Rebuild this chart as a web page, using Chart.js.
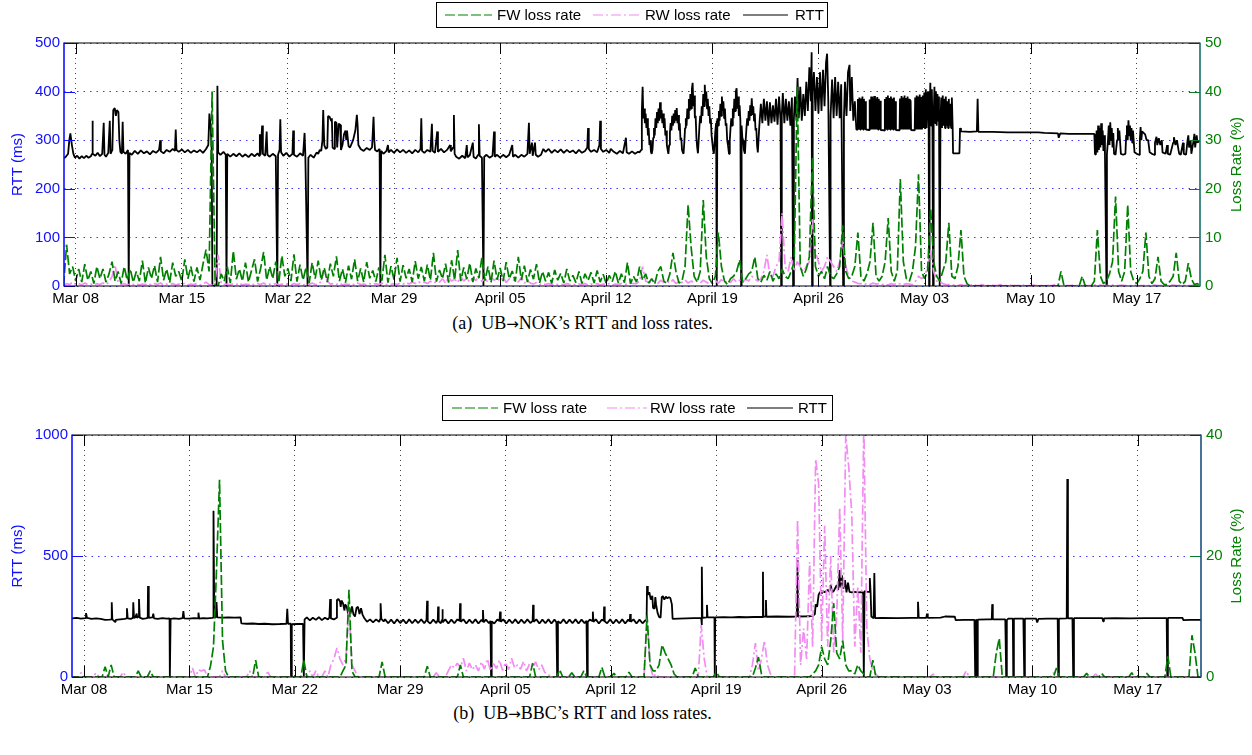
<!DOCTYPE html>
<html><head><meta charset="utf-8">
<script src="https://cdn.jsdelivr.net/npm/chart.js@4.4.1/dist/chart.umd.min.js"></script>
<style>
html,body{margin:0;padding:0;background:#fff;}
body{width:1252px;height:755px;position:relative;overflow:hidden;}
.wrap{position:absolute;left:0;width:1252px;height:310px;}
#wa{top:0}
#wb{top:390px}
.cap{position:absolute;left:0;width:1165px;text-align:center;font-family:'Liberation Serif','Times New Roman',serif;font-size:18px;line-height:21px;color:#000;white-space:pre;}
.arr{font-family:'DejaVu Sans',sans-serif;font-size:15px;}
</style></head><body>
<div class="wrap" id="wa"><canvas id="ca" width="1252" height="310" style="width:1252px;height:310px"></canvas></div>
<div class="cap" style="top:313px">(a)  UB<span class="arr">→</span>NOK’s RTT and loss rates.</div>
<div class="wrap" id="wb"><canvas id="cb" width="1252" height="310" style="width:1252px;height:310px"></canvas></div>
<div class="cap" style="top:703px">(b)  UB<span class="arr">→</span>BBC’s RTT and loss rates.</div>
<script>
// ---------- axis ticks / labels ----------
const xTickDays = [0,7,14,21,28,35,42,49,56,63,70];
const xTickLabels = ['Mar 08','Mar 15','Mar 22','Mar 29','April 05','April 12','April 19','April 26','May 03','May 10','May 17'];
const yTicksA = [0,100,200,300,400,500];
const y2TicksA = [0,10,20,30,40,50];
const yTicksB = [0,500,1000];
const y2TicksB = [0,20,40];
// loss rates: sampled every 0.2 day starting at day -1 (day 0 = Mar 08)
const lossT0 = -1, lossStep = 0.2;

// ---------- (a) UB->NOK ----------
// RTT [day, ms]
const rttA = [
[-0.8,262],[-0.65,266],[-0.5,272],[-0.42,300],[-0.35,314],[-0.25,290],[-0.15,272],[-0.05,264],[0.1,268],[0.25,262],[0.4,267],[0.55,263],[0.7,268],[0.85,264],[1.0,267],[1.08,272],[1.1,340],[1.14,272],[1.3,268],[1.45,274],[1.6,267],[1.75,272],[1.85,336],[1.9,270],[2.0,266],[2.15,274],[2.25,340],[2.3,272],[2.42,280],[2.48,362],[2.58,366],[2.65,350],[2.72,362],[2.82,358],[2.88,300],[2.95,276],[3.05,272],[3.1,338],[3.15,276],[3.3,272],[3.45,280],[3.5,0],[3.55,274],
[3.7,270],[3.9,278],[4.1,272],[4.3,279],[4.5,273],[4.7,277],[4.9,271],[5.1,278],[5.3,274],[5.5,280],[5.58,300],[5.62,277],[5.8,273],[6.0,280],[6.2,276],[6.4,282],[6.55,278],[6.6,322],[6.65,280],[6.8,276],[7.0,281],[7.2,275],[7.4,280],[7.6,274],[7.8,279],[8.0,275],[8.2,280],[8.4,274],[8.6,282],[8.75,290],[8.82,355],[8.9,330],[8.97,285],[9.02,0],[9.3,0],[9.35,412],[9.4,275],
[9.55,270],[9.75,276],[9.9,270],[9.95,0],[10.0,272],[10.2,266],[10.4,272],[10.6,267],[10.8,273],[11.0,266],[11.2,271],[11.4,265],[11.6,272],[11.8,267],[12.0,273],[12.1,268],[12.15,312],[12.2,270],[12.3,330],[12.35,272],[12.5,268],[12.6,318],[12.65,270],[12.8,266],[13.0,272],[13.2,267],[13.3,0],[13.35,270],[13.45,280],[13.5,343],[13.55,275],[13.7,268],[13.9,274],[14.1,266],[14.3,272],[14.35,320],[14.4,270],[14.6,266],[14.8,273],[15.0,268],[15.1,315],[15.15,270],[15.3,0],[15.35,264],[15.5,270],[15.7,264],[15.9,275],[16.0,272],[16.1,280],[16.2,278],[16.28,300],[16.33,362],[16.4,290],[16.5,282],[16.6,285],[16.65,350],[16.75,348],[16.85,340],[16.9,345],[16.95,285],[17.05,282],[17.1,338],[17.2,336],[17.25,285],[17.35,334],[17.45,332],[17.5,280],[17.6,290],[17.7,312],[17.8,320],[17.85,300],[17.9,320],[18.0,288],[18.1,285],[18.3,300],[18.45,320],[18.55,352],[18.6,330],[18.65,290],[18.8,282],[19.0,278],[19.2,284],[19.4,280],[19.55,285],[19.65,348],[19.7,300],[19.75,280],[19.9,277],[20.05,282],[20.1,0],[20.15,278],
[20.3,272],[20.5,278],[20.6,290],[20.65,275],[20.8,280],[21.0,274],[21.2,281],[21.4,275],[21.6,280],[21.8,274],[22.0,279],[22.2,273],[22.4,280],[22.6,275],[22.75,282],[22.8,345],[22.85,278],[23.0,274],[23.2,280],[23.4,276],[23.5,334],[23.55,278],[23.7,274],[23.85,318],[23.9,276],[24.1,282],[24.3,275],[24.5,280],[24.7,290],[24.75,277],[24.9,285],[24.95,352],[25.0,272],[25.1,266],[25.3,262],[25.5,268],[25.7,263],[25.8,290],[25.85,265],[26.0,269],[26.2,295],[26.25,266],[26.4,262],[26.55,270],[26.6,333],[26.65,268],[26.8,264],[26.9,0],[26.95,266],[27.1,270],[27.3,264],[27.5,268],[27.6,318],[27.65,266],[27.8,270],[28.0,264],[28.2,270],[28.4,265],[28.6,270],[28.8,290],[28.85,266],[29.0,270],[29.2,264],[29.4,270],[29.6,266],[29.8,272],[29.9,336],[29.95,272],[30.1,295],[30.15,268],[30.3,295],[30.35,270],[30.5,266],[30.7,270],[30.85,282],[31.0,276],[31.2,282],[31.4,274],[31.6,280],[31.8,275],[32.0,281],[32.2,274],[32.4,280],[32.6,275],[32.8,279],[33.0,273],[33.2,280],[33.4,274],[33.6,278],[33.75,285],[33.8,325],[33.85,282],[34.0,276],[34.2,280],[34.4,275],[34.55,290],[34.6,340],[34.65,282],[34.8,276],[35.0,280],[35.2,274],[35.3,282],[35.5,276],[35.7,272],[35.9,278],[36.1,273],[36.3,305],[36.35,275],[36.5,272],[36.7,277],[36.9,272],[37.1,276],
[37.2,275],[37.3,280],[37.35,360],[37.4,410],[37.45,345],[37.5,365],[37.55,335],[37.6,355],[37.65,325],[37.7,345],[37.75,310],[37.8,325],[37.85,290],[37.9,300],[37.95,276],[38.0,272],
[38.05,280],[38.1,305],[38.15,325],[38.2,310],[38.25,345],[38.3,325],[38.35,358],[38.4,335],[38.45,365],[38.5,340],[38.55,378],[38.6,345],[38.65,362],[38.7,335],[38.75,355],[38.8,325],[38.85,345],[38.9,310],[38.95,320],[39.0,290],[39.05,280],[39.1,272],
[39.15,290],[39.2,315],[39.25,335],[39.3,320],[39.35,350],[39.4,330],[39.45,355],[39.5,335],[39.55,362],[39.6,340],[39.65,366],[39.7,335],[39.75,352],[39.8,320],[39.85,335],[39.9,300],[39.95,305],[40.0,280],[40.05,275],[40.1,272],
[40.15,295],[40.2,325],[40.25,345],[40.3,330],[40.35,365],[40.4,345],[40.45,385],[40.5,360],[40.55,395],[40.6,365],[40.65,405],[40.7,418],[40.75,370],[40.8,392],[40.85,345],[40.9,350],[40.95,305],[41.0,285],[41.05,273],
[41.1,300],[41.15,330],[41.2,350],[41.25,335],[41.3,370],[41.35,350],[41.4,395],[41.45,370],[41.5,414],[41.55,380],[41.6,400],[41.65,365],[41.7,385],[41.75,350],[41.8,370],[41.85,335],[41.9,345],[41.95,310],[42.0,295],[42.05,280],[42.1,272],
[42.15,295],[42.2,320],[42.25,335],[42.28,340],[42.3,0],[42.33,345],[42.38,330],[42.43,360],[42.48,340],[42.53,375],[42.58,350],[42.63,390],[42.68,360],[42.73,380],[42.78,345],[42.83,365],[42.88,330],[42.93,335],[42.98,300],[43.03,290],[43.1,272],
[43.15,300],[43.2,325],[43.25,345],[43.3,330],[43.35,365],[43.4,345],[43.45,385],[43.5,360],[43.55,400],[43.6,407],[43.65,365],[43.7,390],[43.75,350],[43.8,372],[43.85,340],[43.9,0],[43.93,330],[43.98,305],[44.03,300],[44.08,280],[44.15,272],
[44.2,300],[44.25,325],[44.3,345],[44.35,330],[44.4,360],[44.45,340],[44.5,372],[44.55,350],[44.6,386],[44.65,352],[44.7,370],[44.75,340],[44.8,355],[44.85,320],[44.9,325],[44.95,290],[45.0,275],
[45.1,330],[45.2,375],[45.3,335],[45.4,385],[45.5,340],[45.6,380],[45.7,330],[45.8,378],[45.9,335],[46.0,372],[46.1,338],[46.2,385],[46.3,332],[46.4,390],[46.5,340],[46.54,0],[46.58,350],[46.65,397],[46.75,335],[46.85,385],[46.95,340],[47.05,380],[47.15,330],[47.25,388],[47.33,0],[47.38,345],[47.45,390],[47.55,340],[47.62,428],[47.7,345],[47.8,410],[47.9,340],[48.0,395],[48.1,350],[48.2,420],[48.3,360],[48.4,450],[48.5,380],[48.55,481],[48.58,0],[48.62,400],[48.7,440],[48.8,360],[48.9,430],[49.0,355],[49.1,440],[49.2,360],[49.3,445],[49.4,370],[49.5,460],[49.57,478],[49.65,380],[49.77,0],[49.8,350],[49.9,425],[50.0,345],[50.1,430],[50.2,350],[50.3,420],[50.4,345],[50.5,415],[50.63,0],[50.68,345],[50.75,420],[50.85,350],[50.95,440],[51.05,455],[51.1,360],[51.2,430],[51.3,340],[51.4,380],[51.5,322],
[51.55,322],[51.6,385],[51.65,322],[51.7,388],[51.75,322],[51.8,386],[51.85,322],[51.9,390],[51.95,322],[52.0,385],[52.05,322],[52.1,380],[52.13,322],[52.35,321],
[52.38,384],[52.43,322],[52.48,390],[52.53,322],[52.58,388],[52.63,322],[52.68,391],[52.73,322],[52.78,386],[52.83,322],[52.88,389],[52.93,322],[52.98,385],[53.03,322],[53.08,381],[53.11,321],[53.35,320],
[53.38,385],[53.43,322],[53.48,389],[53.53,322],[53.58,392],[53.63,322],[53.68,387],[53.73,322],[53.78,390],[53.83,322],[53.88,386],[53.93,322],[53.98,388],[54.03,322],[54.08,380],[54.11,321],[54.35,320],
[54.38,386],[54.43,322],[54.48,391],[54.53,322],[54.58,388],[54.63,322],[54.68,392],[54.73,322],[54.78,387],[54.83,322],[54.88,390],[54.93,322],[54.98,385],[55.03,322],[55.08,382],[55.11,321],[55.35,320],
[55.38,388],[55.43,322],[55.48,392],[55.53,322],[55.58,390],[55.63,322],[55.68,394],[55.73,322],[55.78,389],[55.83,322],[55.88,392],[55.93,325],[55.98,398],[56.03,325],[56.08,405],[56.13,325],[56.18,395],
[56.23,400],[56.27,330],[56.3,0],[56.33,340],[56.38,418],[56.43,330],[56.48,405],[56.52,335],[56.56,0],[56.6,345],[56.65,410],[56.7,335],[56.75,400],[56.8,330],[56.85,395],[56.9,340],[56.95,390],[57.0,0],[57.05,335],[57.1,388],[57.15,325],[57.2,392],[57.25,330],[57.3,385],[57.35,325],[57.4,390],[57.45,330],[57.5,380],[57.55,325],[57.6,385],[57.65,330],[57.7,375],[57.75,325],[57.8,388],[57.85,330],[57.88,273],[58.3,273],[58.34,325],[58.4,318],
[59.0,317],[59.45,318],[59.5,385],[59.55,317],[60.5,317],[61.5,316],[62.5,316],[63.5,316],[63.9,315],[64.8,314],[64.85,305],[64.95,314],[65.5,313],[66.5,313],[67.2,313],
[67.24,272],[67.3,270],[67.35,320],[67.4,275],[67.45,330],[67.5,280],[67.55,325],[67.6,285],[67.65,335],[67.7,290],[67.75,320],[67.8,278],[67.85,310],[67.9,272],[68.0,0],[68.03,272],[68.1,300],[68.15,330],[68.2,290],[68.25,337],[68.3,300],[68.35,325],[68.4,285],[68.45,315],[68.5,272],[68.6,270],[68.7,300],[68.75,325],[68.8,300],[68.85,320],[68.95,272],[69.1,270],[69.25,272],[69.3,310],[69.35,330],[69.4,300],[69.45,341],[69.5,310],[69.55,330],[69.6,300],[69.65,325],[69.7,295],[69.75,320],[69.85,275],[70.0,272],[70.15,270],[70.2,300],[70.25,327],[70.3,300],[70.35,318],[70.45,315],[70.55,312],[70.65,300],[70.75,300],[70.85,275],[71.0,272],[71.15,270],[71.2,295],[71.3,307],[71.35,290],[71.45,304],[71.55,290],[71.65,300],[71.7,275],[71.9,272],[72.0,290],[72.05,272],[72.2,270],[72.4,295],[72.45,306],[72.55,290],[72.65,300],[72.75,280],[72.8,272],[72.9,270],[73.05,295],[73.1,272],[73.25,270],[73.35,300],[73.4,310],[73.45,285],[73.55,300],[73.6,272],[73.75,300],[73.8,313],[73.85,285],[73.95,310],[74.0,295],[74.2,300]
];
// FW loss rate (%), one row per day: d, d+.2, d+.4, d+.6, d+.8
const fwA = [
0,0,8.5,2.5,4,
1,3.5,0.8,4.5,1.2,
3,0.5,4,1.5,3.5,
0.8,2.5,5,1,3,
0.5,4,1.2,3.5,0.8,
3,1,5.2,0.6,3.8,
1.5,4.2,0.8,6,1.2,
3.5,0.7,4.8,2,3,
1,5.5,1.5,4,0.9,
3.8,1.2,4.5,7.5,3,
40,0,0,2.5,1,
4,0.6,7.2,1.4,3.5,
1,4.8,0.8,3.2,5.5,
0.9,3.6,7,1.2,4,
1.5,5,0.7,6.2,2,
3.6,1,6.5,0.9,4.4,
1.2,3.9,0.6,4.8,1.5,
5.2,1.2,3.8,0.8,4.6,
2,6.1,1,3.5,0.7,
4.2,1.4,5.5,1,3.6,
0.8,4.9,1.6,3.2,0.9,
3.8,1.1,6.4,0.7,4.1,
1.3,5.8,0.9,4.3,1.6,
3.5,0.8,5.1,1.5,3.9,
1,4.4,1.2,6.8,0.9,
3.3,1.5,4.6,0.7,5.3,
1.2,7.4,1,3.8,1.4,
4.7,0.8,3.6,1.6,5.9,
1.1,4,0.7,5.2,1.3,
3.7,1,4.9,1.5,3.1,
0.9,6,1.2,4.2,0.8,
3.4,1.4,4.5,0.6,3,
1,2.8,0.5,3.3,1.2,
2.6,0.6,3.5,1,2.2,
0.7,3,0.5,2.5,1.1,
2.8,0.6,3.2,0.8,2.4,
0.5,2.2,0.9,3,0.6,
2.5,0.7,4.8,0.5,2,
0.8,4,1.2,2.5,0.6,
1.5,0.4,3,4,1,
0.5,2.5,6.8,3,0.6,
1,4,16.7,8,2,
0.8,3,17.7,6,1.5,
0.5,2,11,4,1,
0.3,1.5,2,3,5.4,
0.8,1.5,2.5,3,6,
1.5,0.8,2.2,1.2,3,
1,2.5,1.5,3.5,2,
1.5,3,5,41,4,
2,3.5,6,26.5,4,
2,3,1.5,4,2,
1.5,2.5,4,12.5,3,
1.5,2,4,11,2,
1,2.5,5,13,2,
1,2,5,14,3,
1,3,22,5,1.5,
1,3,8,23,3,
1.5,3,16,5,2,
1,3,5,13,2,
1.5,4,11.5,2,0.5,
0,0,0,0,0,
0,0,0,0,0,
0,0,0,0,0,
0,0,0,0,0,
0,0,0,0,0,
0,0,0,0,0,
3,0,0,0,0,
0,0,2,0,0,
0,1,11.5,2,0.5,
1,2.5,5,18.4,3,
1,3,16.7,3,1,
0.5,1.5,3,11,2,
0.5,1.5,6,1,0.3,
0.3,1,2,6.8,1,
0.3,1,4.7,1.5,0.3,
0.5,0,0,0,0
];
// RW loss rate (%)
const rwA = [
0,0,0.5,0.3,0.8,
0.3,0.5,0.2,0.6,0.3,
0.4,0.2,0.5,0.3,0.6,
0.3,0.8,2,4.3,0.8,
0.3,0.5,0.2,0.4,0.3,
0.5,0.2,0.4,0.3,0.5,
0.2,0.5,0.3,0.6,0.2,
0.4,0.3,0.5,0.2,0.4,
0.3,0.6,0.2,0.4,0.3,
0.5,0.2,0.4,0.8,0.3,
0.2,1,6.4,0.5,0.3,
0.4,0.2,0.5,0.3,0.6,
0.2,0.4,0.3,0.5,0.2,
0.5,0.3,0.6,0.2,0.4,
0.3,0.5,0.2,0.4,0.3,
0.4,0.2,0.5,0.3,0.5,
0.2,0.4,0.3,0.6,0.3,
0.3,1,3.3,1,0.4,
0.5,0.3,0.6,0.2,0.4,
0.3,0.5,0.2,0.6,0.3,
0.4,0.2,0.5,0.3,0.5,
0.3,0.6,0.2,0.4,0.3,
0.5,0.3,0.6,0.4,0.7,
0.4,0.8,0.5,0.9,0.6,
0.8,0.5,1,0.6,0.9,
0.8,1.5,0.6,1.8,1,
1.4,0.7,2,1,1.6,
0.8,1.7,1.1,2.1,0.9,
1.5,0.8,1.9,1.2,1.6,
1,1.8,0.7,1.5,1.2,
1.2,0.8,1.8,0.6,1.1,
0.6,0.4,0.7,0.3,0.5,
0.3,0.5,0.2,0.4,0.3,
0.4,0.2,0.5,0.3,0.4,
0.2,0.4,0.3,0.5,0.2,
0.4,0.3,0.5,0.2,0.4,
0.3,0.5,0.2,0.4,0.3,
0.5,0.3,0.4,0.6,0.5,
0.5,1,4,1,0.8,
0.6,1,0.5,1.2,0.7,
1,0.6,1.3,0.5,0.9,
0.7,1.2,0.6,1,0.8,
1,0.6,1.2,0.8,0.5,
0.8,1.1,0.6,1.3,0.7,
1,0.7,1.5,0.8,1.2,
0.8,1.4,1,2,1.5,
1,1.5,3,6.4,2,
2,4,5,15,4,
3,6,3,5,4,
3,4,5,14,7,
5,3,4,6,5,
4,3,5,9.5,4,
2,1,0.8,0.5,0.5,
0.3,0.5,0.3,0.6,0.4,
0.5,0.3,0.4,0.2,0.5,
0.3,0.6,0.4,0.3,0.5,
0.4,0.3,1,2,1.5,
2,4,7.4,3,1,
1,0.5,0.3,0.3,0.2,
0.2,0.1,0.3,0.1,0.2,
0.1,0.4,0.1,0.1,0.3,
0.1,0.1,0.2,0.1,0.1,
0.3,0.1,0.1,0.2,0.1,
0.1,0.1,0.3,0.1,0.1,
0.1,0.2,0.1,0.1,0.1,
0.1,0.1,0.1,0.3,0.1,
0.1,0.1,0.1,0.1,0.2,
0.1,0.1,0.1,0.1,0.1,
0.1,0.2,0.1,0.2,0.1,
0.1,0.1,0.2,0.1,0.1,
0.2,0.1,0.1,0.1,0.2,
0.1,0.1,0.1,0.2,0.1,
0.1,0.2,0.1,0.1,0.1,
0.1,0.1,0.2,0.1,0.1,
0.2,0.1,0.1,0.1,0.2,
0.1,0.1,0.1,0.1,0.1
];

// ---------- (b) UB->BBC ----------
const rttB = [
[-0.8,242],[-0.5,244],[-0.2,241],[0.1,243],[0.13,264],[0.2,244],[0.5,240],[0.8,242],[1.1,240],[1.4,236],[1.7,237],[1.82,238],[1.84,309],[1.88,238],[2.06,228],[2.1,236],[2.4,238],[2.7,240],[2.83,242],[2.85,284],[2.9,242],[3.1,240],[3.25,244],[3.27,309],[3.32,244],[3.4,246],[3.5,262],[3.52,244],[3.62,250],[3.65,322],[3.7,245],[3.9,240],[4.1,242],[4.23,244],[4.25,376],[4.3,244],[4.55,246],[4.6,262],[4.65,242],[4.9,240],[5.2,243],[5.5,241],[5.68,242],[5.7,0],[5.75,240],[6.0,242],[6.3,240],[6.55,243],[6.6,272],[6.65,242],[7.0,241],[7.3,243],[7.58,242],[7.6,266],[7.65,241],[7.9,243],[8.2,242],[8.5,244],[8.58,245],[8.6,687],[8.65,246],[8.75,246],[8.8,310],[8.85,246],[9.2,245],[9.6,246],[10.0,245],[10.4,246],[10.45,222],[10.8,220],[11.2,221],[11.6,219],[12.0,220],[12.5,218],[13.0,219],[13.45,220],[13.5,282],[13.55,220],[13.73,220],[13.75,0],[13.8,218],[14.2,219],[14.55,219],[14.6,0],[14.65,238],
[14.8,246],[15.0,234],[15.2,245],[15.4,236],[15.6,247],[15.8,235],[16.0,245],[16.2,238],[16.3,246],[16.35,322],[16.4,242],[16.6,238],[16.75,244],[16.8,318],[16.9,322],[17.0,312],[17.05,290],[17.1,316],[17.2,305],[17.3,275],[17.35,300],[17.45,290],[17.55,260],[17.6,286],[17.7,262],[17.8,292],[17.9,258],[18.0,250],[18.1,285],[18.2,290],[18.3,260],[18.4,284],[18.5,258],[18.6,245],[18.8,228],[19.0,238],[19.2,226],[19.4,238],[19.6,228],[19.68,240],[19.7,305],[19.75,240],[19.9,230],
[20.0,238],[20.2,222],[20.4,237],[20.6,221],[20.8,238],[21.0,223],[21.2,237],[21.4,221],[21.6,238],[21.8,222],[22.0,237],[22.2,223],[22.4,238],[22.6,222],[22.75,236],[22.79,315],[22.83,230],[23.0,221],[23.2,237],[23.4,223],[23.5,236],[23.52,291],[23.56,230],[23.7,222],[23.78,236],[23.8,280],[23.84,226],[24.0,238],[24.2,221],[24.4,237],[24.6,222],[24.8,238],[24.95,232],[24.98,305],[25.02,228],[25.2,238],[25.4,221],[25.6,237],[25.8,222],[26.0,238],[26.2,221],[26.4,236],[26.48,230],[26.5,277],[26.54,226],[26.7,237],[26.9,222],[27.0,232],[27.04,0],[27.08,230],[27.25,221],[27.45,237],[27.6,232],[27.64,270],[27.68,228],[27.85,238],[28.05,221],[28.25,237],[28.45,222],[28.65,238],[28.85,221],[29.05,237],[29.25,222],[29.45,238],[29.65,223],[29.8,232],[29.83,298],[29.87,228],[30.05,238],[30.25,221],[30.45,237],[30.65,222],[30.85,238],[31.05,221],[31.25,237],[31.38,226],[31.43,0],[31.48,230],[31.65,222],[31.85,238],[32.05,221],[32.25,237],[32.45,222],[32.65,238],[32.85,221],[33.05,237],[33.25,223],[33.38,232],[33.42,0],[33.46,228],[33.6,237],[33.76,232],[33.8,270],[33.84,228],[34.0,238],[34.2,221],[34.4,237],[34.52,232],[34.55,291],[34.59,230],[34.75,222],[34.95,238],[35.15,221],[35.35,237],[35.55,222],[35.75,238],[35.95,221],[36.15,237],[36.25,230],[36.28,260],[36.32,228],[36.5,238],[36.7,221],[36.9,237],[37.1,222],[37.3,235],
[37.37,232],[37.4,376],[37.45,340],[37.55,350],[37.65,320],[37.75,335],[37.8,285],[37.9,282],[37.95,330],[38.0,300],[38.1,265],[38.2,248],[38.3,245],[38.38,330],[38.45,334],[38.55,320],[38.65,332],[38.75,325],[38.85,330],[38.95,326],[39.05,300],[39.1,240],
[39.5,241],[40.0,242],[40.5,243],[41.0,244],[41.03,215],[41.05,456],[41.08,244],[41.35,246],[41.38,298],[41.42,246],[41.88,246],[41.9,0],[41.93,246],[42.5,247],[43.0,246],[43.5,248],[44.0,247],[44.5,248],[45.05,248],[45.1,435],[45.13,248],[45.25,250],[45.3,318],[45.33,249],[46.0,250],[46.8,249],[47.35,250],[47.4,483],[47.43,250],[48.0,251],[48.4,252],[48.55,260],[48.6,300],[48.7,290],[48.8,340],[48.9,352],[49.0,345],[49.1,355],[49.2,350],[49.4,360],[49.5,352],[49.6,380],[49.7,350],[49.8,355],[50.0,380],[50.1,360],[50.2,442],[50.25,370],[50.35,420],[50.45,365],[50.55,400],[50.65,350],[50.75,390],[50.85,352],[51.0,350],[51.2,352],[51.4,350],[51.6,351],[51.75,350],[51.8,0],[51.85,355],[52.0,352],[52.15,352],[52.2,409],[52.25,352],[52.3,250],[52.45,243],[52.5,430],[52.55,243],
[53.0,244],[54.0,243],[55.0,244],[55.35,244],[55.4,311],[55.45,244],[55.95,244],[56.0,262],[56.05,244],[56.9,245],[57.2,250],[57.85,249],[57.9,235],[58.5,236],[59.15,236],[59.2,0],[59.25,236],[59.3,236],[59.33,0],[59.37,237],[60.0,238],[60.3,238],[60.33,301],[60.37,238],[61.2,238],[61.26,0],[61.3,235],[61.4,241],[61.7,241],[61.73,0],[61.77,241],[62.4,241],[62.46,0],[62.5,241],[63.25,241],[63.32,225],[63.4,240],[64.0,241],[64.68,241],[64.72,0],[64.76,241],[65.28,242],[65.32,818],[65.36,242],[65.66,243],[65.71,0],[65.76,243],[66.5,243],[67.0,243],[67.65,243],[67.7,230],[67.75,242],[68.5,243],[69.5,242],[70.5,243],[71.5,243],[71.92,243],[71.96,0],[72.0,244],[72.5,244],[72.98,244],[73.02,235],[73.5,236],[74.2,236]
];
const fwB = [
0,0,0,0,0,
0,0,0,0,0,
0,0,1.7,0,2,
0,0,0,0,0,
0,0,0,1,0,
0,0,1,0,0,
0,0,0,0,0,
0,0,0,0,0,
0,0,0,0,0,
0,0,1.8,5,17.7,
32.6,6,1,0,0,
0,0,0,0,0,
0,0,2.8,0,0,
0,0,0,0,0,
0,0,0,0,0,
0,0,0,2.8,0,
0,0,0,0,0,
0,0,0,0,0,
0,1,2,14.4,1,
0,0,0,0,0,
0,0,0,0,2.5,
0,0,0,0,0,
0,0,0,0,0,
0,0,0,0,1.8,
0,0,0,0,0,
0,0,0,0,0,
2,0,0,0,0,
0,0,0,0,0,
0,0,0,0,0,
0,0,0,0,0,
0,0,0,0,2.3,
0,0,0,0,0,
0,0,0,1.2,0,
0,0,0.7,0,0,
0,1,0,0,0,
0,0,1.6,0,0,
0,0.6,0,0,0,
0,0.8,0,0,0,
0,0,10.2,2,1,
1,2,5.3,4,3,
2,0.5,0,0,0,
0,0,0,1.5,0,
0,0,0,0,0,
0.8,0,0,0,0,
0,0,0,0,0,
0,0,0,1.5,3.3,
0.5,0,0,0,0,
0,0,0,0,0,
0,0,0,0,0,
0,0,0.5,1,2,
5,3,2,6,12.2,
4,3,6,2,1,
1,0.5,2,1,0.5,
0,0,2.8,0,0,
0,0,0,0,0,
0,0,0,0,0,
0,0,0,0,0,
0,0,0,0,0,
0,0,0,0,0,
0,0,0,0,0,
0,0,0,0,0,
0,0,0,4,6.4,
0,0,0,0,0,
0,0,0,0,0,
0,0,0,0,0,
0,0,0,1.5,0,
0,0,0,0,0,
0,0,0,0.6,0,
0,0,0,0.6,0,
0,0,0,0,0,
0,0,0,0.7,0,
0,0,0,0.6,0,
0,0,0,0,0,
3.4,0,0,0,0,
0,0,0,6.9,4,
0,0,0,0,0
];
const rwB = [
0,0,0,0,0.7,
0,0,0,0,0.7,
0,0,0,0,0,
0,0,0,0.8,0,
0,0,0,0,0,
0,0,0,0,0,
0,0,0,0,0,
0,0,0,0,0,
0,1.5,0,1.2,1,
1.2,0,0,0,0,
0,1,0,0,0,
0,0,0,0,0,
1,0,0,0,0,
0,0.8,0,0,0,
0,0,0,0,0,
0,0,0,0,0,
1,0,1,0,0,
1,0,2,3,4.8,
3,2,3.1,11.6,2,
1,0,0,0,0,
0,0,0,0,0,
0,0,0,0,0,
0,0,0,0,0,
0,0,0,0,0,
0,0,0.7,0,0,
0,1,2,1.5,2.3,
1.5,3.1,1,2.3,1.2,
2,1,2.5,1.3,3,
1,2.2,1.4,2.8,1.1,
2.4,1.2,3.1,1.5,2,
1.3,2.6,1,2.2,1.5,
2.5,1.2,2,0.8,0.5,
0,0,0,0,0,
0,0,0,0,0,
0,0,0,0,0,
0,0,0,0,0,
0,0,0,0,0,
0,0,0,0,0,
0,0,9.7,2,0,
0.5,0,0,0,0,
0,0,0,0,0,
0,0,0,0,0,
8.6,3,0,0,0,
0,0,0,0,0,
0,0,0,0,0,
0,0,2,5.6,1,
3,6,2,0.5,0,
0,0,0,0,0,
0,0,26,2,8,
3,19,5,36,32,
6,25,5,20,4,
10,28,6,40,34.7,
27,5,15,4,42,
8,3,1,0.5,0,
0,0,0,0,0,
0,0,0,0,0,
0,0,0,0,0,
0,0,0.5,0,0,
0,0,0,0,0,
0,0,0,1,0,
0,0,0,0,0,
0,0,0,0,0,
0,0,0,0,0,
0,0,0,0,0,
0,0,0,0,0,
0,0,0.7,0,0,
0,0,0,0,0,
0,0,0,0,0,
0,0.5,0,0,0,
0,0,0,0,0,
0,0,0,0,0,
0,0,0,0,0,
0,0,0,0,0,
0,0,0,0,0,
0,0,0,0,0,
0,0,0,0,0
];

// ---------- drawing ----------
const BLUE = '#1010ff', GREEN = '#008000', PINK = '#f28cf2';
const FONT_FAMILY = "'Liberation Sans', Arial, Helvetica, sans-serif";
Chart.defaults.font.family = FONT_FAMILY;
Chart.defaults.font.size = 15;
Chart.defaults.color = '#000';

const pairs = arr => arr.map(p => ({x: p[0], y: p[1]}));
const sampled = vals => vals.map((v, i) => ({x: lossT0 + i * lossStep, y: v}));

const decor = {
  id: 'decor',
  afterDraw(chart, args, o) {
    const ctx = chart.ctx, a = chart.chartArea;
    const xs = chart.scales.x, yl = chart.scales.y, yr = chart.scales.y2;
    const T = 11;
    ctx.save();
    ctx.setLineDash([]);
    ctx.lineWidth = 1;
    ctx.strokeStyle = '#000';
    ctx.beginPath();
    xTickDays.forEach(v => {
      const px = Math.round(xs.getPixelForValue(v)) + 0.5;
      ctx.moveTo(px, a.top); ctx.lineTo(px, a.top + T);
      ctx.moveTo(px, a.bottom); ctx.lineTo(px, a.bottom - T);
    });
    ctx.stroke();
    ctx.strokeStyle = o.leftColor;
    ctx.beginPath();
    o.yTicks.forEach(v => {
      const py = Math.round(yl.getPixelForValue(v)) + 0.5;
      ctx.moveTo(a.left, py); ctx.lineTo(a.left + T, py);
    });
    ctx.stroke();
    ctx.strokeStyle = o.rightTickColor;
    ctx.beginPath();
    o.y2Ticks.forEach(v => {
      const py = Math.round(yr.getPixelForValue(v)) + 0.5;
      ctx.moveTo(a.right, py); ctx.lineTo(a.right - T, py);
    });
    ctx.stroke();
    // frame
    ctx.lineWidth = 1.2;
    ctx.strokeStyle = '#000';
    ctx.beginPath();
    ctx.moveTo(a.left, a.top); ctx.lineTo(a.right, a.top);
    ctx.moveTo(a.left, a.bottom); ctx.lineTo(a.right, a.bottom);
    ctx.stroke();
    ctx.lineWidth = 1.6;
    ctx.strokeStyle = o.leftColor;
    ctx.beginPath(); ctx.moveTo(a.left, a.top - 0.6); ctx.lineTo(a.left, a.bottom + 0.6); ctx.stroke();
    ctx.strokeStyle = o.rightColor;
    ctx.beginPath(); ctx.moveTo(a.right, a.top - 0.6); ctx.lineTo(a.right, a.bottom + 0.6); ctx.stroke();
    // right axis title (reads bottom to top)
    ctx.font = '15px ' + FONT_FAMILY;
    ctx.fillStyle = o.rightTitleColor;
    ctx.textAlign = 'center';
    ctx.textBaseline = 'middle';
    ctx.save();
    ctx.translate(o.rightTitleX, (a.top + a.bottom) / 2);
    ctx.rotate(-Math.PI / 2);
    ctx.fillText(o.rightTitle, 0, 0);
    ctx.restore();
    // legend
    const L = o.legend;
    ctx.fillStyle = '#fff';
    ctx.fillRect(L.x, L.y, L.w, L.h);
    ctx.lineWidth = 1;
    ctx.strokeStyle = '#000';
    ctx.strokeRect(L.x + 0.5, L.y + 0.5, L.w, L.h);
    const cy = L.y + L.h / 2 + 0.5;
    chart.data.datasets.forEach((ds, i) => {
      const it = L.items[i];
      ctx.strokeStyle = ds.borderColor;
      ctx.lineWidth = 1.2;
      ctx.setLineDash(ds.borderDash || []);
      ctx.beginPath(); ctx.moveTo(it[0], cy); ctx.lineTo(it[1], cy); ctx.stroke();
      ctx.setLineDash([]);
      ctx.fillStyle = '#000';
      ctx.textAlign = 'left';
      ctx.textBaseline = 'middle';
      ctx.fillText(ds.label, it[2], cy + 0.5);
    });
    ctx.restore();
  }
};

function build(id, o) {
  return new Chart(document.getElementById(id), {
    type: 'line',
    data: {
      datasets: [
        {label: 'FW loss rate', data: sampled(o.fw), yAxisID: 'y2', borderColor: GREEN, borderWidth: 1.7, borderDash: [10, 3], pointRadius: 0, borderJoinStyle: 'bevel', tension: 0},
        {label: 'RW loss rate', data: sampled(o.rw), yAxisID: 'y2', borderColor: PINK, borderWidth: 1.7, borderDash: [10, 3, 2, 3], pointRadius: 0, borderJoinStyle: 'bevel', tension: 0},
        {label: 'RTT', data: pairs(o.rtt), yAxisID: 'y', borderColor: '#000', borderWidth: 1.8, pointRadius: 0, borderJoinStyle: 'bevel', tension: 0}
      ]
    },
    options: {
      responsive: false,
      animation: false,
      devicePixelRatio: 1,
      events: [],
      layout: {padding: {top: o.top, left: 0, right: 0, bottom: 0}},
      plugins: {
        legend: {display: false},
        tooltip: {enabled: false},
        decor: {
          leftColor: BLUE, rightColor: o.rightColor, rightTickColor: o.rightTickColor,
          yTicks: o.yTicks, y2Ticks: o.y2Ticks,
          rightTitle: 'Loss Rate (%)', rightTitleColor: GREEN, rightTitleX: 1237,
          legend: o.legend
        }
      },
      scales: {
        x: {
          type: 'linear', min: o.xmin, max: o.xmax,
          afterBuildTicks: s => { s.ticks = xTickDays.map(v => ({value: v})); },
          ticks: {autoSkip: false, maxRotation: 0, padding: 4, color: '#000', callback: v => xTickLabels[xTickDays.indexOf(v)]},
          grid: {color: '#444', lineWidth: 1, drawTicks: false},
          border: {display: false, dash: [1, 4]},
          afterFit: s => { s.height = o.xh; }
        },
        y: {
          type: 'linear', position: 'left', min: o.yTicks[0], max: o.yTicks[o.yTicks.length - 1],
          afterBuildTicks: s => { s.ticks = o.yTicks.map(v => ({value: v})); },
          ticks: {color: BLUE, padding: 4, callback: v => String(v)},
          grid: {color: '#3a3aff', lineWidth: 1, drawTicks: false},
          border: {display: false, dash: [1.5, 5]},
          title: {display: true, text: 'RTT (ms)', color: BLUE, font: {size: 15}, padding: {top: 9, bottom: 0}},
          afterFit: s => { s.width = o.yw; }
        },
        y2: {
          type: 'linear', position: 'right', min: 0, max: o.y2Ticks[o.y2Ticks.length - 1],
          afterBuildTicks: s => { s.ticks = o.y2Ticks.map(v => ({value: v})); },
          ticks: {color: GREEN, padding: 5, callback: v => String(v)},
          grid: {display: false, drawTicks: false},
          border: {display: false},
          afterFit: s => { s.width = o.y2w; }
        }
      }
    },
    plugins: [decor]
  });
}

build('ca', {
  rtt: rttA, fw: fwA, rw: rwA,
  xmin: -0.77, xmax: 74.17, top: 43, xh: 24, yw: 64, y2w: 52,
  yTicks: yTicksA, y2Ticks: y2TicksA,
  rightColor: '#127068', rightTickColor: '#0a7a2a',
  legend: {x: 436, y: 2, w: 391, h: 25, items: [[445, 492, 497], [593, 640, 645], [743, 788, 795]]}
});
build('cb', {
  rtt: rttB, fw: fwB, rw: rwB,
  xmin: -0.8, xmax: 74.2, top: 45, xh: 23, yw: 72, y2w: 51,
  yTicks: yTicksB, y2Ticks: y2TicksB,
  rightColor: '#1c4f7e', rightTickColor: '#0a7a2a',
  legend: {x: 442, y: 5, w: 390, h: 25, items: [[452, 498, 503], [607, 647, 650], [747, 793, 798]]}
});
</script>
</body></html>
